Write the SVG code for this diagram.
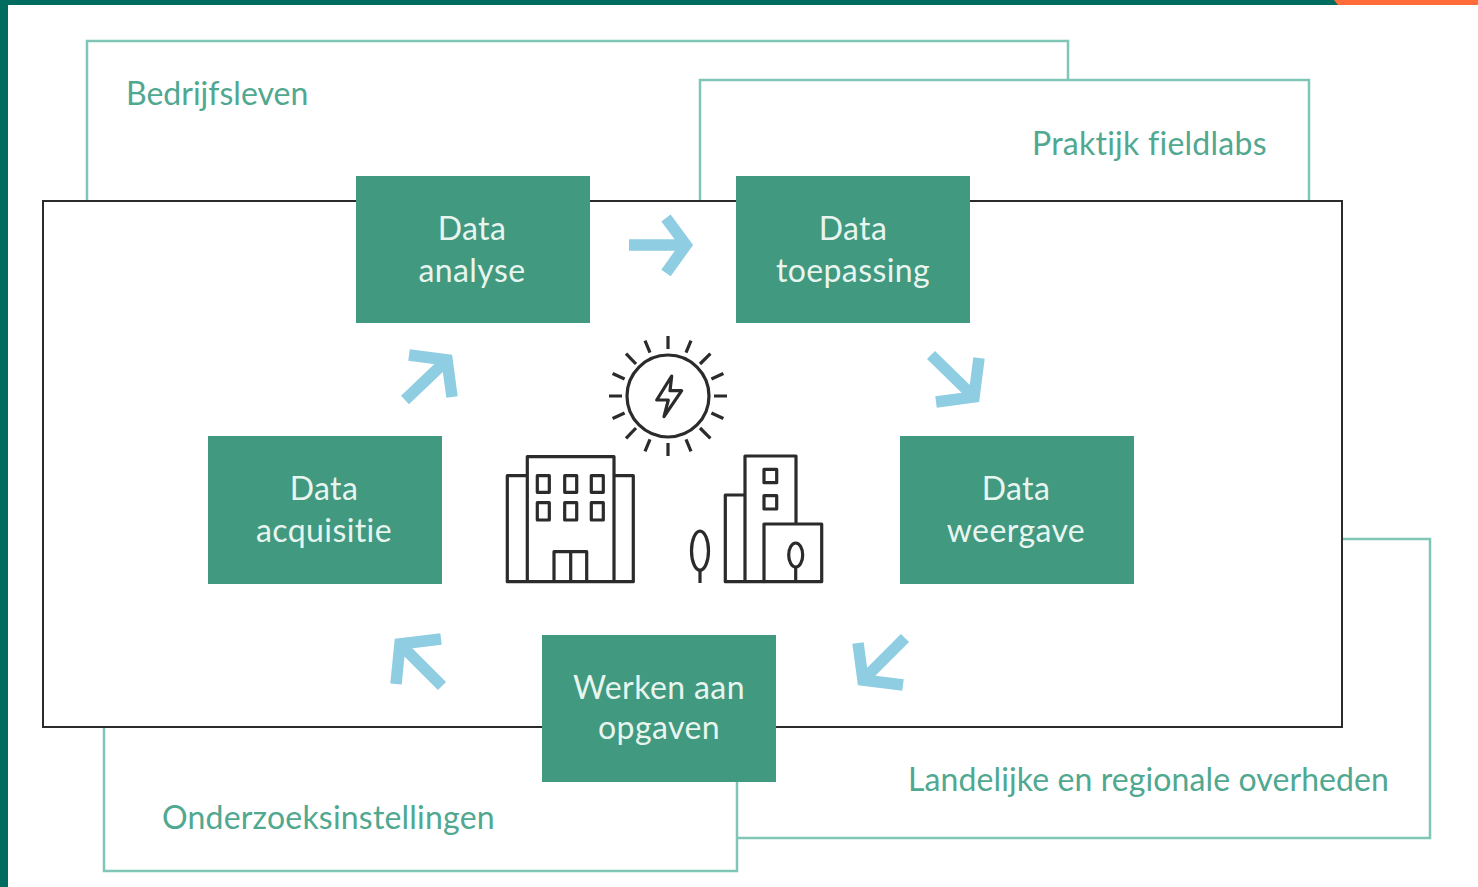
<svg xmlns="http://www.w3.org/2000/svg" width="1478" height="887" viewBox="0 0 1478 887">
<style>
text{font-family:"Lato","Noto Sans",sans-serif;font-size:32px;font-variant-ligatures:none}
.o{fill:none;stroke:#7fc6b6;stroke-width:2.5}
.l{fill:#4fa88f}
.b{fill:#419980}
.t{fill:#e8f5ef;text-anchor:middle;letter-spacing:.4px}
.a{fill:none;stroke:#8fcde3;stroke-width:11.5}
.i{fill:none;stroke:#2b2b2b;stroke-width:3.2;stroke-linejoin:round}
</style>
<rect width="1478" height="887" fill="#fff"/>
<rect width="1478" height="5" fill="#006b5f"/>
<rect width="8" height="887" fill="#006b5f"/>
<path d="M1334 0H1478V5H1338Z" fill="#ff6b39"/>
<g id="bedrijfsleven"><path class="o" d="M87 201V41H1068V80"/><text class="l" x="126" y="105">Bedrijfsleven</text></g>
<g id="praktijk"><path class="o" d="M700 201V80H1309V201"/><text class="l" x="1032" y="155" letter-spacing=".25">Praktijk fieldlabs</text></g>
<g id="landelijk"><path class="o" d="M1342 539H1430V838H737"/><text class="l" x="908" y="791" letter-spacing=".1">Landelijke en regionale overheden</text></g>
<g id="onderzoek"><path class="o" d="M104 727V871H737V782"/><text class="l" x="162" y="829" letter-spacing=".2">Onderzoeksinstellingen</text></g>
<rect id="kader" x="43" y="201" width="1299" height="526" fill="#fff" stroke="#2b2b2b" stroke-width="2"/>
<g id="connectors">
<path class="a" d="M629 245H684M666 218L686 245L666 273"/>
<path class="a" d="M931 355L974 397M979 358L974 397L936 402"/>
<path class="a" d="M905 638L863 680M858 643L863 680L903 685"/>
<path class="a" d="M442 686L400 644M441 639L400 644L396 684"/>
<path class="a" d="M405 400L447 360M409 355L447 360L452 397"/>
</g>
<g id="n1"><rect class="b" x="356" y="176" width="234" height="147"/><text class="t" x="472" y="240">Data</text><text class="t" x="472" y="282">analyse</text></g>
<g id="n2"><rect class="b" x="736" y="176" width="234" height="147"/><text class="t" x="853" y="240">Data</text><text class="t" x="853" y="282">toepassing</text></g>
<g id="n3"><rect class="b" x="900" y="436" width="234" height="148"/><text class="t" x="1016" y="500">Data</text><text class="t" x="1016" y="542">weergave</text></g>
<g id="n4"><rect class="b" x="542" y="635" width="234" height="147"/><text class="t" x="659" y="699">Werken aan</text><text class="t" x="659" y="739">opgaven</text></g>
<g id="n5"><rect class="b" x="208" y="436" width="234" height="148"/><text class="t" x="324" y="500">Data</text><text class="t" x="324" y="542">acquisitie</text></g>
<g id="zon" class="i">
<circle cx="668" cy="396" r="41"/>
<path d="M671.7 376L656.7 400H668.3L664 416.7L681.7 390.7H670Z"/>
<path d="M668 336V349M668 443V456M609 396H622M714 396H727M626 353.600L636 364M700 428L710.400 438.400M710.400 353.600L700 364M636 428L626 438.400M645 340.600L650 352.600M686 439.400L691 451.400M691 340.600L686 352.600M650 439.400L645 451.400M612.600 373.500L624.600 379M711.400 413L723.400 418.500M723.400 373.500L711.400 379M624.600 413L612.600 418.500"/>
</g>
<g id="gebouw1" class="i">
<path d="M527.3 581.7V456.7H614V581.7M527.3 475.7H507.3V581.7H633.3V475.7H614"/>
<rect x="537.3" y="475.7" width="12" height="16.6"/><rect x="564.7" y="475.7" width="12" height="16.6"/><rect x="591.3" y="475.7" width="12" height="16.6"/>
<rect x="537.3" y="502.7" width="12" height="17.3"/><rect x="564.7" y="502.7" width="12" height="17.3"/><rect x="591.3" y="502.7" width="12" height="17.3"/>
<path d="M554 581.7V551.7H586.7V581.7M570.7 551.7V581.7"/>
</g>
<g id="gebouw2" class="i">
<ellipse cx="700" cy="550.7" rx="8.5" ry="19.5"/><path d="M700 570.200V583"/>
<path d="M745 581.7V456H796V524M745 495H725.3V581.7H764"/>
<rect x="764" y="524" width="57.7" height="57.7"/>
<rect x="764" y="469.3" width="12.7" height="13.4"/><rect x="764" y="495.7" width="12.7" height="13.3"/>
<ellipse cx="795.7" cy="555" rx="7" ry="12"/><path d="M795.7 567V581.7"/>
</g>
</svg>
